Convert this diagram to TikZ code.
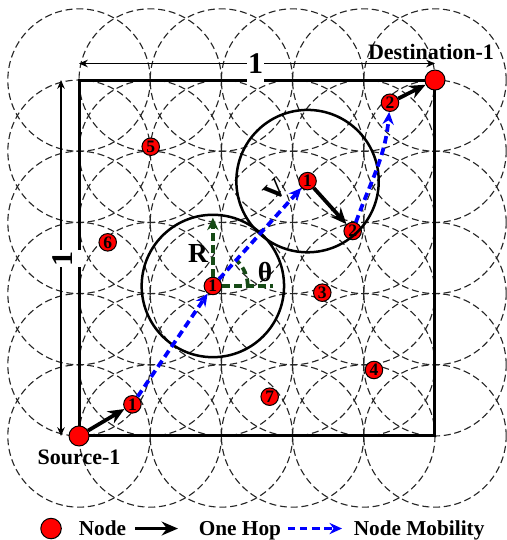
\documentclass[tikz,border=0pt]{standalone}
\usepackage{fontspec}
\setmainfont{Liberation Serif}
\usetikzlibrary{positioning,arrows.meta}
\definecolor{darkgreen}{RGB}{22,74,22}
\begin{document}
\begin{tikzpicture}[
    rangecircle/.style={draw=black!85, line width=0.45pt, dash pattern=on 2.8pt off 1.5pt},
    sensor/.style={circle, draw=black, line width=0.4pt, fill=red, inner sep=0pt, minimum size=7pt, font=\fontsize{7}{7}\selectfont\bfseries},
    endpoint/.style={sensor, minimum size=8pt},
    hop/.style={-{Stealth[length=6.5pt,width=5.5pt]}, line width=1.5pt},
    mobility/.style={-{Stealth[length=5pt,width=4.5pt]}, blue, line width=1.5pt, dash pattern=on 3pt off 1.8pt},
    anglemark/.style={darkgreen, line width=1.5pt, dash pattern=on 3pt off 1.8pt},
    dimline/.style={{Stealth[length=3.5pt,width=3pt]}-{Stealth[length=3.5pt,width=3pt]}, line width=0.6pt},
    dimlabel/.style={fill=white, inner xsep=0.5pt, inner ysep=4pt, font=\fontsize{12}{12}\selectfont\bfseries},
    lbl/.style={font=\fontsize{8.8}{10}\selectfont\bfseries},
    leglbl/.style={font=\fontsize{8.5}{10}\selectfont\bfseries},
    symb/.style={font=\fontsize{11}{11}\selectfont\bfseries}
]
\useasboundingbox (-1.11,-1.461) rectangle (6.011,6.124);

% transmission ranges
\foreach \x in {0,...,5}
  \foreach \y in {0,...,5}
    \draw[rangecircle] (\x,\y) circle[radius=1];

% network area
\draw[line width=1.2pt] (0,0) rectangle (5,5);

% nodes
\node (src) [endpoint] at (0,0) {};
\node (dst) [endpoint] at (5,5) {};
\node (h1a) [sensor] at (0.75,0.445) {1};
\node (h1b) [sensor] at (1.88,2.107) {1};
\node (h1c) [sensor] at (3.21,3.58) {1};
\node (h2a) [sensor] at (3.844,2.879) {2};
\node (h2b) [sensor] at (4.368,4.681) {2};
\node (n3) [sensor] at (3.417,2.013) {3};
\node (n4) [sensor] at (4.143,0.927) {4};
\node (n5) [sensor] at (1.007,4.063) {5};
\node (n6) [sensor] at (0.403,2.72) {6};
\node (n7) [sensor] at (2.678,0.552) {7};

% ranges of the moving node
\draw[line width=1pt] (h1b.center) circle[radius=1];
\draw[line width=1pt] (h1c.center) circle[radius=1];

% radius and angle
\draw[anglemark, -{Stealth[length=5pt,width=4.5pt]}] (h1b) -- ++(0,0.96);
\draw[anglemark] (h1b) -- ++(0.84,0);
\draw[anglemark] (h1b.center) ++(0.49,0) arc[start angle=0, end angle=46, radius=0.49];
\node (rlabel) [symb] at (1.671,2.57) {R};
\node (thlabel) [symb] at (2.612,2.303) {θ};
\node (vlabel) [symb, rotate=45] at (2.753,3.455) {V};

% mobility and hops
\draw[mobility] (h1a) -- (h1b);
\draw[mobility] (h1b) -- (h1c);
\draw[mobility] (h2a) to[out=70, in=-95] (h2b);
\draw[hop] (src) -- (h1a);
\draw[hop] (h1c) -- (h2a);
\draw[hop] (h2b) -- (dst);

% side lengths
\coordinate (topl) at (0,5.232);
\coordinate (topr) at (5,5.232);
\coordinate (sidet) at (-0.253,5);
\coordinate (sideb) at (-0.253,0);
\draw[dimline] (topl) -- (topr);
\draw[dimline] (sidet) -- (sideb);
\node (toplen) [dimlabel, anchor=base] at (2.479,5.098) {1};
\node (sidelen) [dimlabel, anchor=base, rotate=90] at (-0.098,2.493) {1};

\node (srctxt) [lbl, anchor=base] at (0,-0.407) {Source-1};
\node (dsttxt) [lbl, anchor=base] at (4.944,5.29) {Destination-1};

% legend
\node (legnode) [endpoint, minimum size=8.2pt] at (-0.393,-1.30) {};
\node (legnodetxt) [leglbl, anchor=base west] at (-0.126,-1.40) {Node};
\coordinate (hopa) at (0.787,-1.30);
\coordinate (hopb) at (1.39,-1.30);
\draw[hop] (hopa) -- (hopb);
\node (leghoptxt) [leglbl, anchor=base west] at (1.559,-1.40) {One Hop};
\coordinate (moba) at (2.935,-1.30);
\coordinate (mobb) at (3.694,-1.30);
\draw[mobility] (moba) -- (mobb);
\node (legmobtxt) [leglbl, anchor=base west] at (3.736,-1.40) {Node Mobility};
\end{tikzpicture}
\end{document}
